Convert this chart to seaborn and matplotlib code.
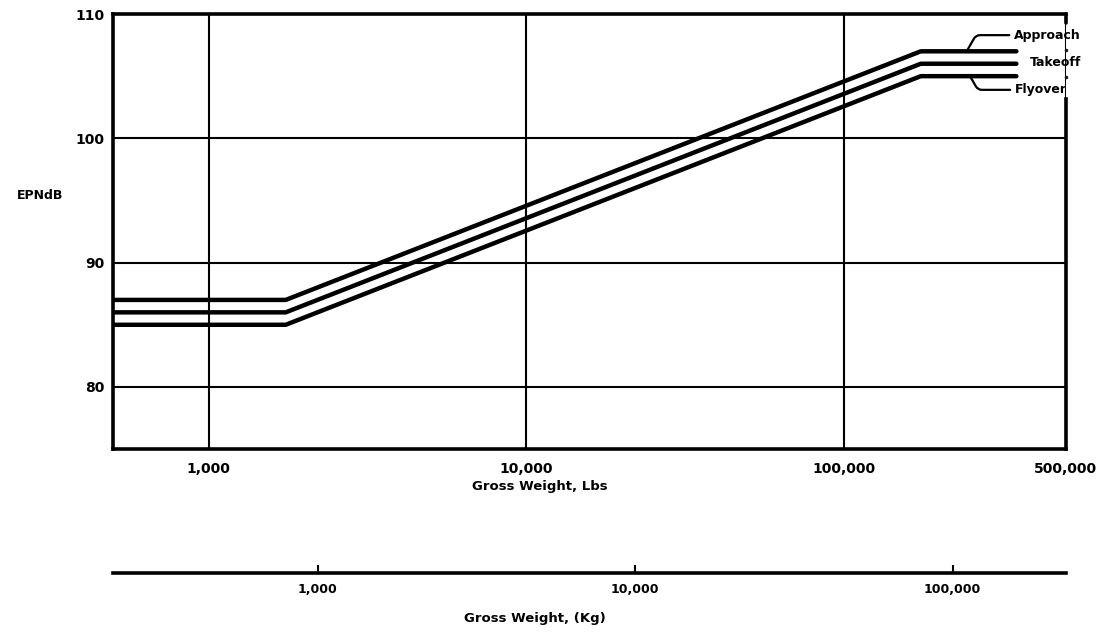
import numpy as np
import pandas as pd
import seaborn as sns
import matplotlib.pyplot as plt

# gross weight (lbs) at which each noise limit line is defined
weights_lbs = [500, 1750, 175000, 350000]
approach_epndb = [87, 87, 107, 107]
takeoff_epndb = [86, 86, 106, 106]
flyover_epndb = [85, 85, 105, 105]

lbs_ticks = [1000, 10000, 100000, 500000]
lbs_tick_labels = ["1,000", "10,000", "100,000", "500,000"]
kg_ticks = [1000, 10000, 100000]
kg_tick_labels = ["1,000", "10,000", "100,000"]
y_ticks = [80, 90, 100, 110]

LBS_PER_KG = 2.20462

df = pd.concat(
    [
        pd.DataFrame({"weight": weights_lbs, "epndb": approach_epndb, "condition": "Approach"}),
        pd.DataFrame({"weight": weights_lbs, "epndb": takeoff_epndb, "condition": "Takeoff"}),
        pd.DataFrame({"weight": weights_lbs, "epndb": flyover_epndb, "condition": "Flyover"}),
    ],
    ignore_index=True,
)

sns.set_theme(style="white")
plt.rcParams["font.family"] = ["DejaVu Sans"]
plt.rcParams["font.weight"] = "bold"
plt.rcParams["text.color"] = "black"
plt.rcParams["xtick.color"] = "black"
plt.rcParams["ytick.color"] = "black"
plt.rcParams["axes.labelcolor"] = "black"

fig = plt.figure(figsize=(11, 6.37), dpi=100)
ax = fig.add_axes([0.1027, 0.295, 0.866, 0.683])

sns.lineplot(
    data=df,
    x="weight",
    y="epndb",
    hue="condition",
    palette=["black", "black", "black"],
    linewidth=3.2,
    legend=False,
    ax=ax,
    zorder=3,
)

ax.set_xscale("log")
ax.set_xlim(500, 500000)
ax.set_ylim(75, 110)

ax.set_xticks(lbs_ticks)
ax.set_xticklabels(lbs_tick_labels, fontsize=10, fontweight="bold")
ax.xaxis.set_minor_locator(plt.NullLocator())
ax.set_yticks(y_ticks)
ax.set_yticklabels([str(v) for v in y_ticks], fontsize=10, fontweight="bold")
ax.tick_params(axis="x", length=0, pad=9)
ax.tick_params(axis="y", length=0, pad=6)
ax.grid(True, color="black", linewidth=1.5)

for side in ["left", "bottom", "top", "right"]:
    ax.spines[side].set_color("black")
    ax.spines[side].set_linewidth(2.6)
# right edge is broken where the labels sit
ax.spines["right"].set_bounds(75, 103.2)
ax.axvline(500000, ymin=(109.3 - 75) / 35, ymax=1, color="black", linewidth=2.6, clip_on=False)
ax.plot([500000, 500000], [107.1, 104.9], "k.", markersize=3, clip_on=False)

ax.set_xlabel("Gross Weight, Lbs", fontsize=9.5, fontweight="bold", labelpad=3)
ax.xaxis.label.set_x(0.4485)
ax.set_ylabel("EPNdB", fontsize=9, fontweight="bold", rotation=0, ha="center", va="center")
ax.yaxis.set_label_coords(-0.077, 0.584)

# line labels with leaders
ax.annotate(
    "Approach", xy=(244000, 107), xytext=(344000, 108.3),
    fontsize=9, fontweight="bold", ha="left", va="center",
    arrowprops=dict(arrowstyle="-", color="black", linewidth=1.6,
                    connectionstyle="angle,angleA=0,angleB=60,rad=4",
                    shrinkA=1, shrinkB=0),
    annotation_clip=False,
)
ax.text(386000, 106.1, "Takeoff", fontsize=9, fontweight="bold", ha="left", va="center")
ax.annotate(
    "Flyover", xy=(250000, 105), xytext=(346000, 103.9),
    fontsize=9, fontweight="bold", ha="left", va="center",
    arrowprops=dict(arrowstyle="-", color="black", linewidth=1.6,
                    connectionstyle="angle,angleA=0,angleB=-60,rad=4",
                    shrinkA=1, shrinkB=0),
    annotation_clip=False,
)

# metric scale underneath
kg_ax = ax.secondary_xaxis(-0.285, functions=(lambda w: w / LBS_PER_KG, lambda w: w * LBS_PER_KG))
kg_ax.set_xticks(kg_ticks)
kg_ax.set_xticklabels(kg_tick_labels, fontsize=9, fontweight="bold")
kg_ax.xaxis.set_minor_locator(plt.NullLocator())
kg_ax.tick_params(axis="x", direction="in", length=6, width=1.5, pad=7, colors="black")
kg_ax.spines["bottom"].set_linewidth(2.6)
kg_ax.spines["bottom"].set_color("black")
kg_ax.set_xlabel("Gross Weight, (Kg)", fontsize=9.5, fontweight="bold", labelpad=12)
kg_ax.xaxis.label.set_x(0.443)

fig.savefig("out.png", dpi=100)
